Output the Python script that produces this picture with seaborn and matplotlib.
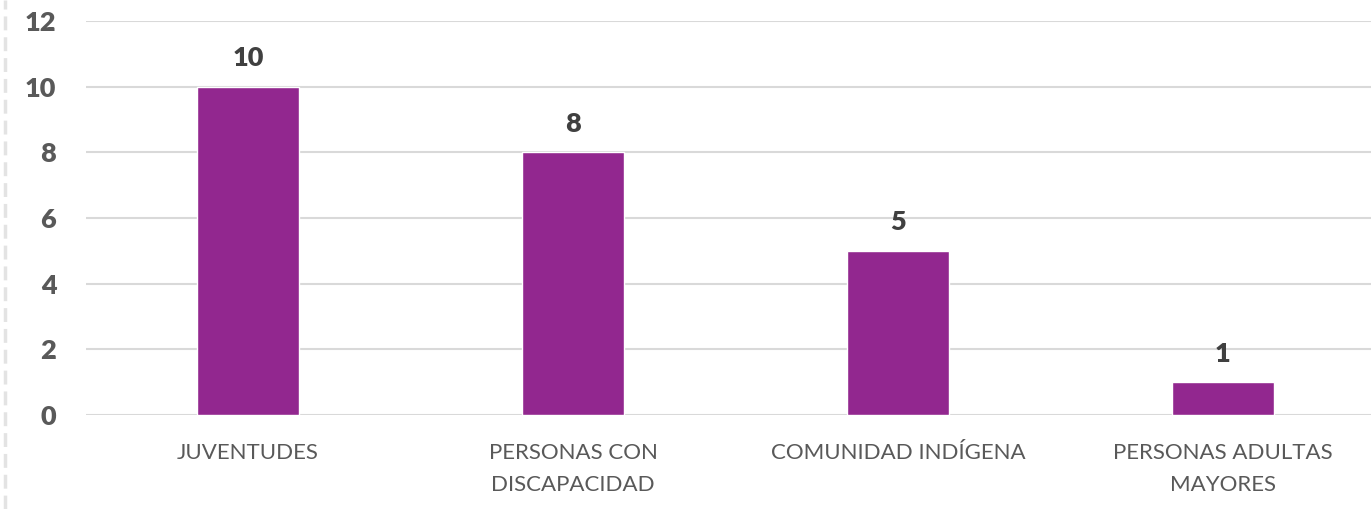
import matplotlib
matplotlib.use("Agg")
import matplotlib.pyplot as plt
import seaborn as sns
import pandas as pd
from matplotlib.lines import Line2D

# datos del grafico
categorias = ["JUVENTUDES", "PERSONAS CON\nDISCAPACIDAD", "COMUNIDAD INDÍGENA", "PERSONAS ADULTAS\nMAYORES"]
valores = [10, 8, 5, 1]
y_ticks = [0, 2, 4, 6, 8, 10, 12]

df = pd.DataFrame({"categoria": categorias, "valor": valores})

sns.set_theme(style="white")
plt.rcParams["font.family"] = ["Lato", "DejaVu Sans"]

fig = plt.figure(figsize=(13.71, 5.09), dpi=100)
# el eje se sale un poco por la derecha, como en la imagen original
ax = fig.add_axes([85.5 / 1371, 94 / 509, 1300 / 1371, 394 / 509])

sns.barplot(data=df, x="categoria", y="valor", color="#92278F", width=0.314,
            saturation=1, ax=ax, zorder=3)

ax.set_ylim(0, 12)
ax.set_yticks(y_ticks)
ax.set_xlim(-0.5, 3.5)
ax.grid(axis="y", color="#d9d9d9", linewidth=1.5, zorder=0)
ax.set_axisbelow(True)
for s in ax.spines.values():
    s.set_visible(False)

ax.set_xlabel("")
ax.set_ylabel("")
ax.tick_params(axis="y", length=0, pad=21, labelsize=19.5, labelcolor="#595959")
ax.tick_params(axis="x", length=0, pad=20, labelsize=16, labelcolor="#595959")
for t in ax.get_yticklabels():
    t.set_fontweight("heavy")
for t in ax.get_xticklabels():
    t.set_linespacing(1.75)

# etiquetas encima de las barras
for cont in ax.containers:
    ax.bar_label(cont, padding=12, fontsize=19.5, fontweight="heavy", color="#404040")

# borde gris a la izquierda
fig.add_artist(Line2D([5 / 1371, 5 / 1371], [0, 1], transform=fig.transFigure,
                      color="#e3e3e3", linewidth=2.5, linestyle=(0, (4, 2))))

fig.savefig("out.png", dpi=100)
